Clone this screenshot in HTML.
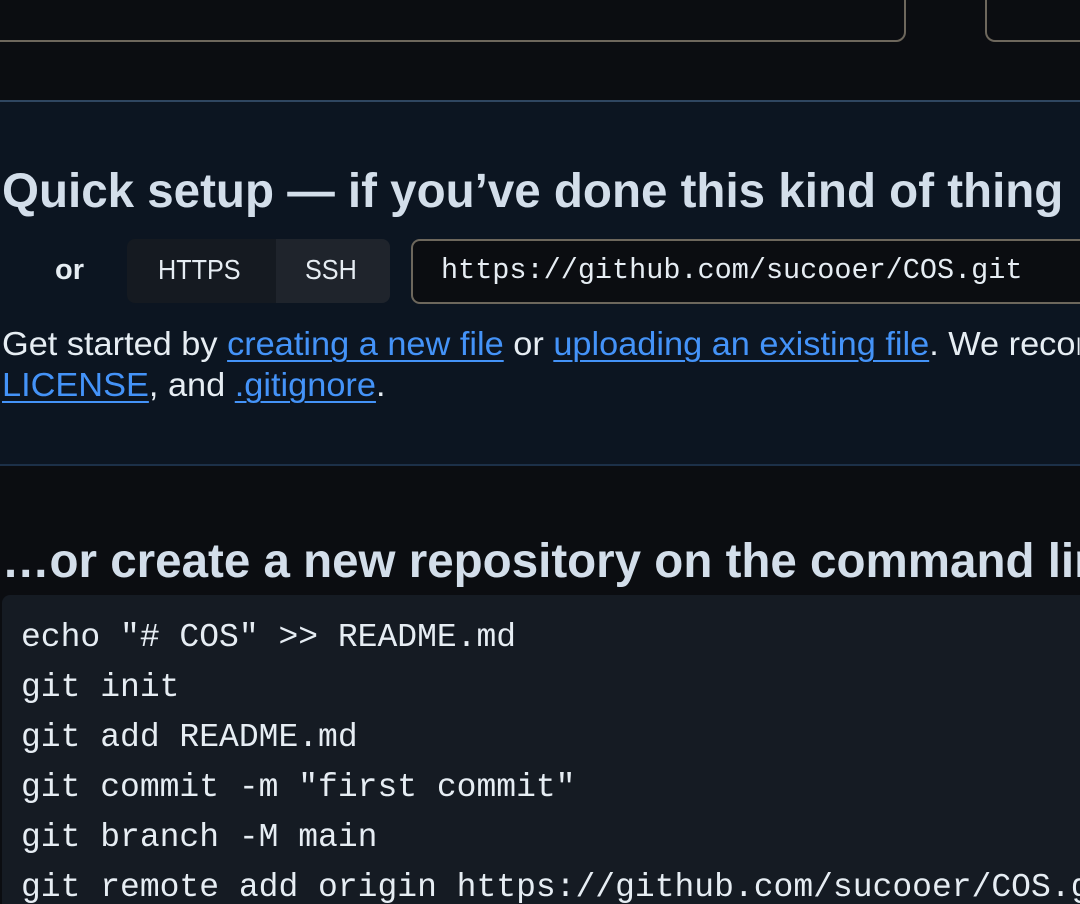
<!DOCTYPE html>
<html><head><meta charset="utf-8"><style>
html,body{margin:0;padding:0;width:1080px;height:904px;overflow:hidden;background:#0b0d11;font-family:"Liberation Sans",sans-serif;}
#w{position:relative;width:1080px;height:904px;overflow:hidden;}
.abs{position:absolute;white-space:nowrap;}
.h{font-weight:bold;color:#d3deea;font-size:48px;transform-origin:left top;}
.p{color:#e6edf3;font-size:33px;transform-origin:left top;transform:scaleX(1.04);}
.p a{color:#4493f8;text-decoration:underline;text-decoration-thickness:2px;text-underline-offset:5px;}
.mono{font-family:"Liberation Mono",monospace;}
.code{color:#e6edf3;font-size:33px;left:21px;}
</style></head><body><div id="w">
<div class="abs" style="left:-20px;top:-20px;width:926px;height:62px;border:2px solid #6d675c;border-radius:10px;box-sizing:border-box;"></div>
<div class="abs" style="left:985px;top:-20px;width:95px;height:62px;border:2px solid #6d675c;border-right:none;border-radius:10px 0 0 10px;box-sizing:border-box;"></div>
<div class="abs" style="left:0;top:100px;width:1080px;height:366px;background:#0c1521;border-top:2px solid #2f4660;border-bottom:2px solid #1c3048;box-sizing:border-box;"></div>
<div class="abs h" style="left:2px;top:164px;transform:scaleX(0.99);width:1078px;overflow:hidden;">Quick setup — if you’ve done this kind of thing</div>
<div class="abs" style="left:55px;top:254px;font-size:29px;font-weight:bold;color:#e6edf3;">or</div>
<div class="abs" style="left:127px;top:239px;width:149px;height:64px;background:#151a21;border-radius:8px 0 0 8px;"></div>
<div class="abs" style="left:276px;top:239px;width:114px;height:64px;background:#1f242c;border-radius:0 8px 8px 0;"></div>
<div class="abs" style="left:158px;top:254px;font-size:28px;color:#e6edf3;transform:scaleX(0.9);transform-origin:left top;">HTTPS</div>
<div class="abs" style="left:305px;top:254px;font-size:28px;color:#e6edf3;transform:scaleX(0.9);transform-origin:left top;">SSH</div>
<div class="abs" style="left:411px;top:239px;width:669px;height:65px;background:#0b0d11;border:2px solid #6d675c;border-right:none;border-radius:9px 0 0 9px;box-sizing:border-box;"></div>
<div class="abs mono" style="left:441px;top:254px;font-size:28.5px;color:#e6edf3;">https://github.com/sucooer/COS.git</div>
<div class="abs p" style="left:2px;top:325px;width:1036px;overflow:hidden;">Get started by <a>creating a new file</a> or <a>uploading an existing file</a>. We recommend every</div>
<div class="abs p" style="left:2px;top:366px;"><a>LICENSE</a>, and <a>.gitignore</a>.</div>
<div class="abs h" style="left:2px;top:534px;transform:scaleX(0.99);width:1090px;overflow:hidden;">…or create a new repository on the command line</div>
<div class="abs" style="left:2px;top:595px;width:1078px;height:309px;background:#151b23;border-radius:8px 0 0 0;"></div>
<div class="abs mono code" style="top:619px;">echo "# COS" &gt;&gt; README.md</div>
<div class="abs mono code" style="top:669px;">git init</div>
<div class="abs mono code" style="top:719px;">git add README.md</div>
<div class="abs mono code" style="top:769px;">git commit -m "first commit"</div>
<div class="abs mono code" style="top:819px;">git branch -M main</div>
<div class="abs mono code" style="top:869px;">git remote add origin https://github.com/sucooer/COS.git</div>
</div></body></html>
